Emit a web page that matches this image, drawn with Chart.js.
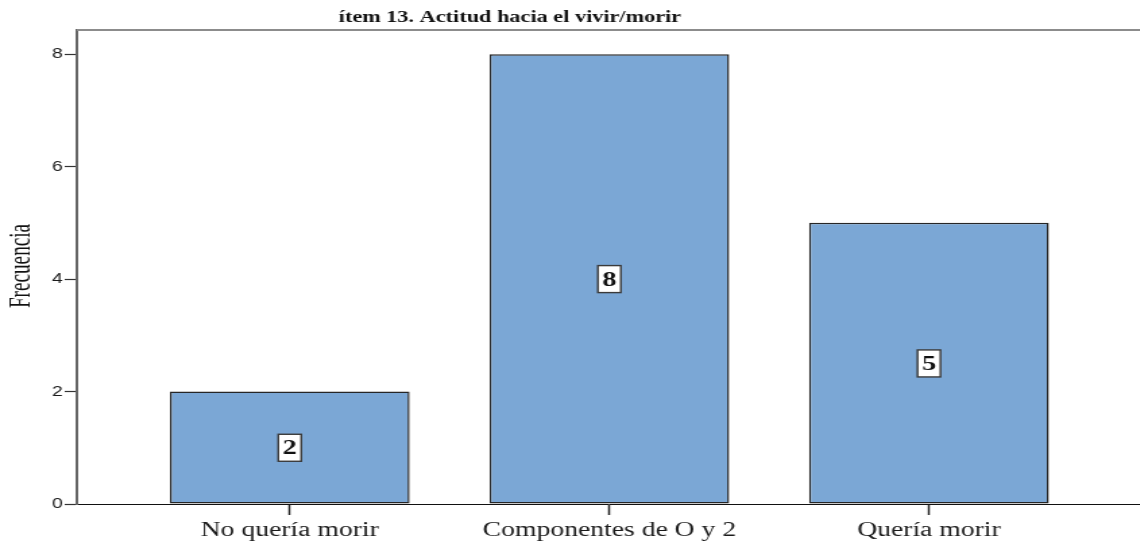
<!DOCTYPE html>
<html>
<head>
<meta charset="utf-8">
<script src="https://cdn.jsdelivr.net/npm/chart.js@4/dist/chart.umd.min.js"></script>
<style>
  html, body { margin: 0; padding: 0; background: #fff; overflow: hidden; width: 1140px; height: 542px; }
  #wrap { position: absolute; left: 0; top: 0; width: 845px; height: 542px; transform: scaleX(1.349); transform-origin: 0 0; }
  canvas { display: block; }
</style>
</head>
<body>
<div id="wrap"><canvas id="c" width="845" height="542"></canvas></div>
<script>
const categories = ['No quería morir', 'Componentes de O y 2', 'Quería morir'];
const frequencies = [2, 8, 5];
const yTickValues = [0, 2, 4, 6, 8];
const titleText = 'ítem 13. Actitud hacia el vivir/morir';
const yAxisLabel = 'Frecuencia';

const points = frequencies.map((v, i) => ({ x: i, y: v }));

const decorPlugin = {
  id: 'decor',
  afterDraw(chart) {
    const ctx = chart.ctx;
    const area = chart.chartArea;
    ctx.save();
    // top frame line
    ctx.strokeStyle = '#8c8c8c';
    ctx.lineWidth = 2;
    ctx.beginPath();
    ctx.moveTo(area.left, area.top);
    ctx.lineTo(area.right, area.top);
    ctx.stroke();
    // title
    ctx.fillStyle = '#111';
    ctx.font = 'bold 16.5px "Liberation Serif", "Times New Roman", serif';
    ctx.textAlign = 'center';
    ctx.textBaseline = 'alphabetic';
    ctx.fillText(titleText, 378, 22);
    // y axis title (condensed)
    ctx.translate(15.5, 266);
    ctx.rotate(-Math.PI / 2);
    ctx.scale(0.8, 1);
    ctx.font = '24px "Liberation Serif", "Times New Roman", serif';
    ctx.textBaseline = 'middle';
    ctx.fillText(yAxisLabel, 0, 0);
    ctx.restore();
  },
  afterDatasetsDraw(chart) {
    const ctx = chart.ctx;
    const meta = chart.getDatasetMeta(0);
    const yScale = chart.scales.y;
    ctx.save();
    meta.data.forEach((bar, i) => {
      const v = frequencies[i];
      const cx = bar.x;
      const cy = yScale.getPixelForValue(v / 2);
      const w = 17, h = 27;
      ctx.fillStyle = '#ffffff';
      ctx.fillRect(cx - w / 2, cy - h / 2, w, h);
      ctx.strokeStyle = '#3a3a3a';
      ctx.lineWidth = 1.4;
      ctx.strokeRect(cx - w / 2, cy - h / 2, w, h);
      ctx.fillStyle = '#111';
      ctx.font = 'bold 21px "Liberation Serif", "Times New Roman", serif';
      ctx.textAlign = 'center';
      ctx.textBaseline = 'middle';
      ctx.fillText(String(v), cx, cy + 1);
    });
    ctx.restore();
  }
};

new Chart(document.getElementById('c'), {
  type: 'bar',
  data: {
    datasets: [{
      data: points,
      backgroundColor: '#7ba7d5',
      borderColor: '#262626',
      borderWidth: 1.5,
      borderSkipped: false,
      barPercentage: 0.75,
      categoryPercentage: 1.0
    }]
  },
  options: {
    responsive: false,
    animation: false,
    layout: { padding: { top: 30, right: 0, left: 0, bottom: 0 } },
    plugins: { legend: { display: false }, tooltip: { enabled: false }, title: { display: false } },
    scales: {
      x: {
        type: 'linear',
        min: -0.666,
        max: 2.66,
        offset: false,
        afterBuildTicks(scale) { scale.ticks = categories.map((c, i) => ({ value: i })); },
        afterFit(scale) { scale.height = 38; },
        ticks: {
          autoSkip: false,
          maxRotation: 0,
          padding: 3,
          color: '#1a1a1a',
          font: { family: '"Liberation Serif", "Times New Roman", serif', size: 20.5 },
          callback: (v) => categories[v] ?? ''
        },
        grid: { display: true, drawOnChartArea: false, drawTicks: true, tickLength: 11, tickWidth: 1.5, tickColor: '#222', offset: false },
        border: { display: true, color: '#111', width: 1 }
      },
      y: {
        min: 0,
        max: 8.43,
        afterBuildTicks(scale) { scale.ticks = yTickValues.map(v => ({ value: v })); },
        afterFit(scale) { scale.width = 57; },
        ticks: {
          padding: 1.5,
          color: '#1a1a1a',
          font: { family: '"Liberation Sans", Arial, sans-serif', size: 14.5 }
        },
        grid: { display: true, drawOnChartArea: false, drawTicks: true, tickLength: 9, tickWidth: 1.2, tickColor: '#333' },
        border: { display: true, color: '#666', width: 2 }
      }
    }
  },
  plugins: [decorPlugin]
});
</script>
</body>
</html>
